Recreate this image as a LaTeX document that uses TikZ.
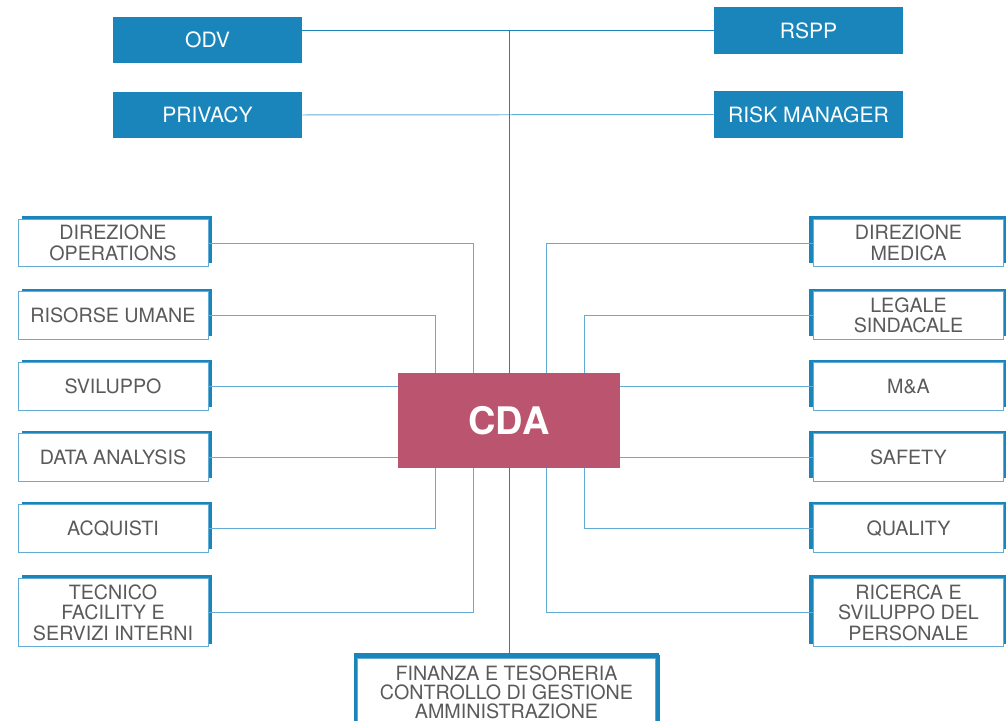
\documentclass[tikz,border=0pt]{standalone}
\usepackage{fontspec}
\setmainfont{TeX Gyre Heros}
\usepackage{tikz}
\usetikzlibrary{positioning, calc, shadows}
\usepackage{xcolor}
\definecolor{deptblue}{HTML}{1A85BB}
\definecolor{linkblue}{HTML}{62ACD6}
\definecolor{cdared}{HTML}{BB546F}
\definecolor{labelgrey}{HTML}{5A5A5A}
\tikzset{
  bluebox/.style={rectangle, fill=deptblue, minimum width=4.725cm,
                  minimum height=1.15cm, inner sep=0pt, align=center,
                  text=white, font=\fontsize{15}{16}\selectfont},
  lbox/.style={rectangle, draw=linkblue, line width=0.6pt, fill=white,
               minimum width=4.75cm, minimum height=1.18cm, inner sep=0pt,
               align=center, text=labelgrey,
               font=\fontsize{14}{14.5}\selectfont,
               general shadow={fill=deptblue, shadow xshift=0.1cm, shadow yshift=0.08cm}},
  rbox/.style={lbox,
               general shadow={fill=deptblue, shadow xshift=-0.1cm, shadow yshift=0.08cm}},
  cdabox/.style={rectangle, fill=cdared, minimum width=5.55cm,
                 minimum height=2.375cm, text=white,
                 font=\fontsize{27}{30}\selectfont\bfseries},
  link/.style={line width=0.7pt, color=linkblue},
  spine/.style={line width=0.7pt, color=deptblue},
}
\begin{document}
\begin{tikzpicture}[x=0.025cm, y=-0.025cm]
        \useasboundingbox (0,0) rectangle (1006,721);
        % top staff
        \node[bluebox] (odv) at (207.5,40) {ODV};
        \node[bluebox] (privacy) at (207.5,115) {PRIVACY};
        \node[bluebox] (rspp) at (808.5,30.5) {RSPP};
        \node[bluebox] (risk) at (808.5,114.5) {RISK MANAGER};
        % board
        \node[cdabox] (cda) at (509,420.5) {CDA};
        % left side
        \node[lbox] (dirop) at (113,243) {DIREZIONE\\OPERATIONS};
        \node[lbox] (hr) at (113,315.5) {RISORSE UMANE};
        \node[lbox] (svil) at (113,386.5) {SVILUPPO};
        \node[lbox] (data) at (113,457.5) {DATA ANALYSIS};
        \node[lbox] (acq) at (113,528.5) {ACQUISTI};
        \node[lbox, minimum height=1.72cm] (tecn) at (113,612.5)
              {TECNICO\\FACILITY E\\SERVIZI INTERNI};
        % right side
        \node[rbox] (dirmed) at (908.5,243) {DIREZIONE\\MEDICA};
        \node[rbox] (legale) at (908.5,315.5) {LEGALE\\SINDACALE};
        \node[rbox] (ma) at (908.5,386.5) {M\&A};
        \node[rbox] (safety) at (908.5,457.5) {SAFETY};
        \node[rbox] (quality) at (908.5,528.5) {QUALITY};
        \node[rbox, minimum height=1.72cm] (ricerca) at (908.5,612.5)
              {RICERCA E\\SVILUPPO DEL\\PERSONALE};
        % bottom
        \node[lbox, minimum width=7.45cm, minimum height=1.7cm, font=\fontsize{14}{13.5}\selectfont,
              general shadow={fill=deptblue, shadow scale=1.023, shadow yshift=0.1cm}] (fin) at (506.5,692)
              {FINANZA E TESORERIA\\CONTROLLO DI GESTIONE\\AMMINISTRAZIONE};
        % connectors
        \draw[spine] (rspp.west) -- (odv.east |- rspp.west);
        \draw[link] (privacy.east) -- (risk.west);
        \draw[spine] (cda.north |- rspp.west) -- (cda.north);
        \draw[spine] (cda.south) -- (cda.south |- fin.north);
        \draw[link] (dirop.east) -| ($(cda.north)+(-36,0)$);
        \draw[link] (hr.east) -| ($(cda.north)+(-74,0)$);
        \draw[link] (svil.east) -- (svil.east -| cda.west);
        \draw[link] (data.east) -- (data.east -| cda.west);
        \draw[link] (acq.east) -| ($(cda.south)+(-74,0)$);
        \draw[link] (tecn.east) -| ($(cda.south)+(-36,0)$);
        \draw[link] (dirmed.west) -| ($(cda.north)+(37,0)$);
        \draw[link] (legale.west) -| ($(cda.north)+(75,0)$);
        \draw[link] (ma.west) -- (ma.west -| cda.east);
        \draw[link] (safety.west) -- (safety.west -| cda.east);
        \draw[link] (quality.west) -| ($(cda.south)+(75,0)$);
        \draw[link] (ricerca.west) -| ($(cda.south)+(37,0)$);
      \end{tikzpicture}
\end{document}
